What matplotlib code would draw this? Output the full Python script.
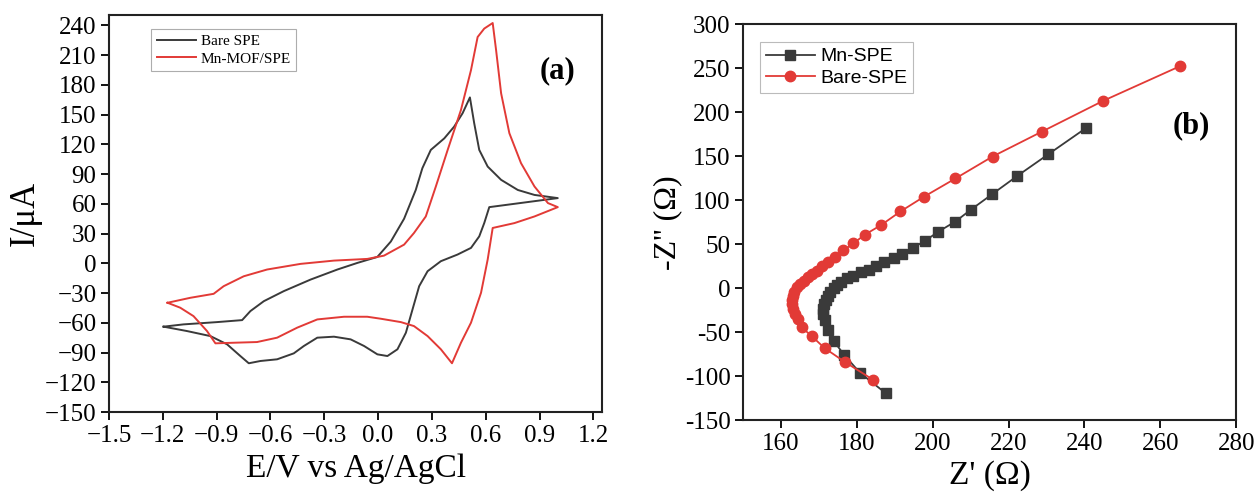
import matplotlib
matplotlib.use("Agg")
import matplotlib.pyplot as plt

# (a) cyclic voltammograms, traced in scan order
bare_e = [-1.196, -1.085, -0.898, -0.758, -0.712, -0.637, -0.526, -0.376, -0.227, -0.115,
          -0.004, 0.071, 0.145, 0.210, 0.247, 0.294, 0.369, 0.424, 0.471, 0.512,
          0.536, 0.564, 0.611, 0.686, 0.779, 0.872, 1.002,
          0.620, 0.592, 0.564, 0.518, 0.443, 0.350, 0.276, 0.229, 0.192, 0.155, 0.108,
          0.052, -0.004, -0.078, -0.153, -0.246, -0.339, -0.414, -0.470, -0.563, -0.656,
          -0.721, -0.768, -0.842, -0.935, -1.066, -1.196]
bare_i = [-63.8, -61.5, -59.2, -57.2, -48.1, -38.1, -28.0, -16.3, -6.2, 0.5,
          6.5, 22.0, 45.0, 74.0, 96.0, 114.4, 126.0, 137.8, 151.3, 167.3,
          141.2, 114.4, 97.6, 84.2, 74.0, 69.0, 65.8,
          56.7, 40.7, 27.2, 15.6, 8.9, 2.2, -7.9, -23.0, -46.4, -69.9, -86.6,
          -93.4, -91.7, -83.3, -76.6, -73.9, -74.9, -83.3, -90.7, -96.7, -98.4,
          -100.7, -93.4, -81.6, -73.3, -68.2, -63.8]

mof_e = [-1.174, -1.047, -0.917, -0.861, -0.749, -0.619, -0.432, -0.246, -0.060, 0.033,
         0.145, 0.200, 0.266, 0.322, 0.388, 0.462, 0.518, 0.555, 0.592, 0.639,
         0.658, 0.686, 0.732, 0.797, 0.872, 0.947, 1.002,
         0.872, 0.760, 0.639, 0.611, 0.574, 0.518, 0.462, 0.412, 0.350, 0.276, 0.200,
         0.127, 0.015, -0.060, -0.190, -0.339, -0.451, -0.563, -0.675, -0.805, -0.907,
         -0.954, -1.029, -1.103, -1.174]
mof_i = [-39.7, -34.7, -30.7, -23.0, -13.0, -6.2, -0.5, 2.8, 4.5, 7.8,
         18.9, 30.6, 47.3, 77.5, 114.4, 154.6, 194.8, 228.2, 236.7, 242.3,
         214.9, 171.4, 131.2, 101.0, 77.5, 60.8, 56.7,
         47.3, 40.6, 35.7, 3.8, -29.6, -59.8, -80.0, -100.7, -86.6, -73.3, -63.2,
         -59.2, -55.8, -53.8, -53.8, -56.5, -64.8, -74.9, -79.3, -80.0, -80.6,
         -68.2, -53.2, -44.7, -39.7]

e_ticks = [-1.5, -1.2, -0.9, -0.6, -0.3, 0.0, 0.3, 0.6, 0.9, 1.2]
i_ticks = list(range(-150, 241, 30))

# (b) Nyquist plots
mn_zre = [240.4, 230.4, 222.3, 215.7, 210.0, 206.0, 201.4, 198.0, 194.8, 192.0,
          189.7, 187.3, 185.1, 183.1, 181.1, 179.1, 177.4, 175.9, 174.8, 173.9,
          173.0, 172.3, 171.8, 171.4, 171.2, 171.2, 171.5, 172.3, 174.0, 176.7,
          180.9, 187.7]
mn_zim = [182.0, 152.0, 127.6, 106.9, 89.0, 75.8, 64.0, 53.8, 46.0, 38.7,
          33.8, 29.3, 24.8, 20.9, 17.9, 14.1, 11.1, 7.3, 3.5, -0.2,
          -4.0, -8.7, -13.2, -18.0, -23.8, -29.5, -35.9, -47.3, -60.5, -76.0,
          -96.5, -119.6]

bare_zre = [265.3, 244.9, 228.8, 215.8, 206.0, 197.8, 191.5, 186.5, 182.2, 179.1,
            176.5, 174.2, 172.3, 170.8, 169.5, 168.2, 167.1, 166.0, 165.1, 164.2,
            163.5, 163.1, 162.9, 162.9, 163.1, 163.6, 164.4, 165.5, 168.2, 171.5,
            177.0, 184.4]
bare_zim = [252.6, 212.9, 178.0, 149.7, 124.7, 104.2, 87.2, 72.0, 61.0, 51.0,
            43.0, 35.8, 29.3, 24.8, 19.8, 16.0, 12.2, 8.4, 4.7, 0.9,
            -4.0, -8.7, -13.2, -18.0, -23.8, -29.5, -35.2, -44.6, -54.8, -68.1,
            -84.3, -104.4]

zre_ticks = list(range(160, 281, 20))
zim_ticks = list(range(-150, 301, 50))

black = '#3a3a3a'
red = '#e23a36'
serif = 'Liberation Serif'
sans = 'Liberation Sans'
plt.rcParams['font.family'] = 'serif'
plt.rcParams['font.serif'] = [serif, 'DejaVu Serif']

fig = plt.figure(figsize=(12.55, 4.96), dpi=100)
ax1 = fig.add_axes([0.0869, 0.169, 0.393, 0.800])
ax2 = fig.add_axes([0.592, 0.153, 0.393, 0.798])

tick_font = {'family': serif, 'size': 18}

# panel (a)
ax1.plot(bare_e, bare_i, color=black, lw=1.4, label='Bare SPE')
ax1.plot(mof_e, mof_i, color=red, lw=1.4, label='Mn-MOF/SPE')
ax1.set_xlim(-1.5, 1.25)
ax1.set_ylim(-150, 250)
ax1.set_xticks(e_ticks)
ax1.set_xticklabels([f'{v:.1f}'.replace('-', '\u2212') for v in e_ticks], fontdict=tick_font)
ax1.set_yticks(i_ticks)
ax1.set_yticklabels([str(v).replace('-', '\u2212') for v in i_ticks], fontdict=tick_font)
ax1.set_xlabel('E/V vs Ag/AgCl', fontfamily=serif, fontsize=24, labelpad=5)
ax1.set_ylabel('I/\u03bcA', fontfamily=serif, fontsize=25, labelpad=2)
ax1.text(0.909, 0.861, '(a)', transform=ax1.transAxes, fontfamily=serif,
         fontweight='bold', fontsize=22, ha='center', va='center')
leg1 = ax1.legend(loc='upper left', bbox_to_anchor=(0.07, 0.985), frameon=True,
                  fancybox=False, edgecolor='#999999', prop={'family': serif, 'size': 11},
                  handlelength=2.6, borderpad=0.35, labelspacing=0.25, handletextpad=0.3)
leg1.get_frame().set_linewidth(0.8)

# panel (b)
ax2.plot(mn_zre, mn_zim, color=black, lw=1.3, marker='s', ms=7, label='Mn-SPE')
ax2.plot(bare_zre, bare_zim, color=red, lw=1.3, marker='o', ms=7.5, label='Bare-SPE')
ax2.set_xlim(150, 280)
ax2.set_ylim(-150, 300)
ax2.set_xticks(zre_ticks)
ax2.set_xticklabels([str(v) for v in zre_ticks], fontdict=tick_font)
ax2.set_yticks(zim_ticks)
ax2.set_yticklabels([str(v) for v in zim_ticks], fontdict=tick_font)
ax2.set_xlabel("Z' (\u03a9)", fontfamily=serif, fontsize=24, labelpad=4)
ax2.set_ylabel("-Z'' (\u03a9)", fontfamily=serif, fontsize=23, labelpad=2)
ax2.text(0.909, 0.745, '(b)', transform=ax2.transAxes, fontfamily=serif,
         fontweight='bold', fontsize=22, ha='center', va='center')
leg2 = ax2.legend(loc='upper left', bbox_to_anchor=(0.015, 0.98), frameon=True,
                  fancybox=False, edgecolor='#aaaaaa', prop={'family': sans, 'size': 14},
                  handlelength=2.5, borderpad=0.3, labelspacing=0.2, handletextpad=0.3)
leg2.get_frame().set_linewidth(0.8)

for ax in (ax1, ax2):
    for s in ax.spines.values():
        s.set_linewidth(1.5)
        s.set_color('#222222')
    ax.tick_params(direction='out', length=6, width=1.3, top=False, right=False, pad=3)

fig.savefig('out.png', dpi=100)
